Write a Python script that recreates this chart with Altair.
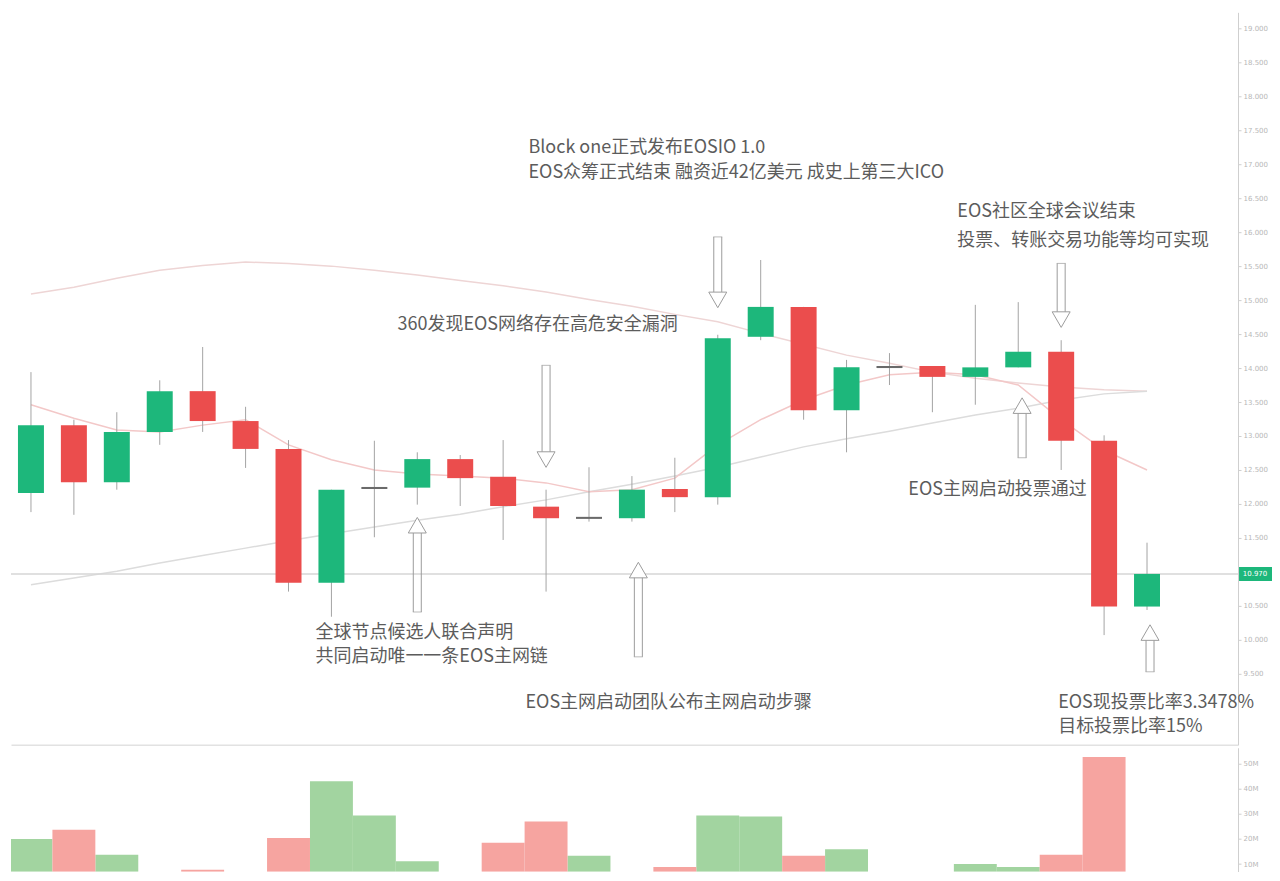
import altair as alt
import pandas as pd

# ---------------- data ----------------
candle_idx = list(range(1, 28))
opens  = [12.16, 13.16, 12.32, 13.06, 13.66, 13.22, 12.81, 10.84, 12.22, 12.24, 12.66, 12.40, 11.96, 11.78,
          11.79, 12.22, 12.10, 14.46, 14.90, 13.38, 14.00, 14.03, 13.87, 14.01, 14.24, 12.93, 10.49]
closes = [13.16, 12.32, 13.06, 13.66, 13.22, 12.81, 10.84, 12.21, 12.25, 12.66, 12.38, 11.97, 11.79, 11.81,
          12.21, 12.10, 14.44, 14.90, 13.38, 14.01, 14.03, 13.87, 14.01, 14.24, 12.93, 10.49, 10.97]
highs  = [13.94, 13.24, 13.35, 13.82, 14.31, 13.43, 12.94, 12.21, 12.93, 12.76, 12.72, 12.94, 12.21, 12.54,
          12.41, 12.68, 14.49, 15.59, 14.90, 14.12, 14.22, 14.03, 14.93, 14.97, 14.41, 13.01, 11.43]
lows   = [11.88, 11.84, 12.21, 12.87, 13.06, 12.53, 10.71, 10.34, 11.51, 11.99, 11.97, 11.47, 10.71, 11.74,
          11.74, 11.88, 11.99, 14.41, 13.24, 12.76, 13.75, 13.35, 13.46, 14.01, 12.50, 10.07, 10.44]
volumes = [20.0, 23.7, 13.7, 4.0, 7.8, 3.5, 20.4, 43.0, 29.3, 11.1, 5.0, 18.5, 27.0, 13.3,
           6.0, 8.9, 29.3, 28.9, 13.3, 15.9, 4.5, 5.5, 10.0, 8.9, 13.7, 52.6, 6.5]

ma_slow = [15.09, 15.19, 15.32, 15.44, 15.51, 15.56, 15.54, 15.50, 15.44, 15.37, 15.29, 15.21, 15.12, 15.01,
           14.91, 14.79, 14.68, 14.51, 14.35, 14.19, 14.07, 13.94, 13.85, 13.78, 13.72, 13.68, 13.66]
ma_mid  = [10.81, 10.91, 11.01, 11.13, 11.24, 11.35, 11.46, 11.56, 11.66, 11.76, 11.85, 11.96, 12.06, 12.18,
           12.29, 12.41, 12.54, 12.69, 12.84, 12.96, 13.07, 13.19, 13.31, 13.41, 13.53, 13.62, 13.66]
ma_fast = [13.46, 13.26, 13.09, 13.06, 13.16, 13.24, 12.87, 12.65, 12.50, 12.44, 12.41, 12.38, 12.31, 12.18,
           12.21, 12.38, 12.87, 13.24, 13.53, 13.75, 13.90, 13.94, 13.90, 13.75, 13.24, 12.79, 12.50]

price_ticks = [9.5, 10.0, 10.5, 11.0, 11.5, 12.0, 12.5, 13.0, 13.5, 14.0, 14.5,
               15.0, 15.5, 16.0, 16.5, 17.0, 17.5, 18.0, 18.5, 19.0]
volume_ticks = [10, 20, 30, 40, 50]

ann_text = ["Block one正式发布EOSIO 1.0",
            "EOS众筹正式结束 融资近42亿美元 成史上第三大ICO",
            "EOS社区全球会议结束",
            "投票、转账交易功能等均可实现",
            "360发现EOS网络存在高危安全漏洞",
            "全球节点候选人联合声明",
            "共同启动唯一一条EOS主网链",
            "EOS主网启动团队公布主网启动步骤",
            "EOS主网启动投票通过",
            "EOS现投票比率3.3478%",
            "目标投票比率15%"]
ann_x = [12.59, 12.59, 22.58, 22.58, 9.54, 7.63, 7.63, 12.52, 21.44, 24.93, 24.93]
ann_y = [17.24, 16.87, 16.29, 15.87, 14.63, 10.10, 9.75, 9.07, 12.21, 9.07, 8.71]

arrow_x    = [17, 13, 25, 10, 15.15, 24.09, 27.07]
arrow_tail = [15.93, 14.04, 15.54, 10.41, 9.75, 12.68, 9.53]
arrow_tip  = [14.85, 12.50, 14.56, 11.84, 11.18, 13.60, 10.26]
arrow_dir  = ["down", "down", "down", "up", "up", "up", "up"]

# ---------------- tables ----------------
df = pd.DataFrame(dict(idx=candle_idx, open=opens, close=closes, high=highs, low=lows, volume=volumes))
df["dir"] = ["doji" if abs(c - o) < 0.05 else ("up" if c > o else "down") for o, c in zip(opens, closes)]
df["vdir"] = ["up" if c >= o else "down" for o, c in zip(opens, closes)]
df["body_top"] = df[["open", "close"]].max(axis=1)
df["body_bot"] = df[["open", "close"]].min(axis=1)

ma_df = pd.DataFrame(dict(idx=candle_idx, slow=ma_slow, mid=ma_mid, fast=ma_fast))
ann_df = pd.DataFrame(dict(x=ann_x, y=ann_y, text=ann_text))
arr_df = pd.DataFrame(dict(x=arrow_x, tail=arrow_tail, tip=arrow_tip, dir=arrow_dir))
last_df = pd.DataFrame(dict(price=[closes[-1]], label=[f"{closes[-1]:.3f}"]))

# ---------------- scales / axes ----------------
W = 1228
H_MAIN = 733
H_VOL = 124
GREEN = "#1db77b"
RED = "#eb4d4d"
FONT = "Noto Sans CJK SC"

xscale = alt.Scale(domain=[0.535, 29.12], nice=False, zero=False, padding=0)
yscale = alt.Scale(domain=[8.456, 19.235], nice=False, zero=False, padding=0)
xaxis = alt.Axis(labels=False, ticks=False, title=None, grid=False, domainColor="#e2e2e2", domainWidth=1.5)
yaxis = alt.Axis(orient="right", values=price_ticks, format=".3f", labelFontSize=7, labelColor="#b8b8b8",
                 tickColor="#cfcfcf", tickSize=3, domainColor="#cfcfcf", grid=False, title=None,
                 labelPadding=2, labelFont="DejaVu Sans")


def X(field="idx"):
    return alt.X(f"{field}:Q", scale=xscale, axis=xaxis, title=None)


def Y(field):
    return alt.Y(f"{field}:Q", scale=yscale, axis=yaxis, title=None)


ma_base = alt.Chart(ma_df)
ma_lines = alt.layer(
    ma_base.mark_line(strokeWidth=1.5, clip=True, color="#eed5d5").encode(x=X(), y=Y("slow")),
    ma_base.mark_line(strokeWidth=1.5, clip=True, color="#dcdcdc").encode(x=X(), y=Y("mid")),
    ma_base.mark_line(strokeWidth=1.5, clip=True, color="#f3c8c8").encode(x=X(), y=Y("fast")),
)

price_line = alt.Chart(last_df).mark_rule(color="#d6d6d6", strokeWidth=1.5).encode(
    x=alt.value(0), x2=alt.value(W), y=Y("price"))

base = alt.Chart(df)
wicks = base.mark_rule(color="#a4a4a4", strokeWidth=1).encode(x=X(), y=Y("low"), y2="high:Q")

bodies = alt.layer(
    base.transform_filter(alt.datum.dir == "up").mark_bar(size=26, color=GREEN).encode(
        x=X(), y=Y("body_bot"), y2="body_top:Q"),
    base.transform_filter(alt.datum.dir == "down").mark_bar(size=26, color=RED).encode(
        x=X(), y=Y("body_bot"), y2="body_top:Q"),
    base.transform_filter(alt.datum.dir == "doji").mark_bar(size=26, color="#6a6a6a").encode(
        x=X(), y=Y("body_bot"), y2="body_top:Q"),
)

down_arr = alt.Chart(arr_df).transform_filter(alt.datum.dir == "down")
up_arr = alt.Chart(arr_df).transform_filter(alt.datum.dir == "up")
ACOL = "#9c9c9c"
arrows = alt.layer(
    down_arr.mark_rule(color=ACOL, strokeWidth=1, xOffset=-4, y2Offset=-15).encode(x=X("x"), y=Y("tail"), y2="tip:Q"),
    down_arr.mark_rule(color=ACOL, strokeWidth=1, xOffset=4, y2Offset=-15).encode(x=X("x"), y=Y("tail"), y2="tip:Q"),
    down_arr.mark_tick(color=ACOL, size=9, thickness=1, orient="horizontal").encode(x=X("x"), y=Y("tail")),
    down_arr.mark_point(shape="triangle-down", size=324, filled=True, fill="white", stroke=ACOL,
                        strokeWidth=1, opacity=1, yOffset=-10.4).encode(x=X("x"), y=Y("tip")),
    up_arr.mark_rule(color=ACOL, strokeWidth=1, xOffset=-4, y2Offset=15).encode(x=X("x"), y=Y("tail"), y2="tip:Q"),
    up_arr.mark_rule(color=ACOL, strokeWidth=1, xOffset=4, y2Offset=15).encode(x=X("x"), y=Y("tail"), y2="tip:Q"),
    up_arr.mark_tick(color=ACOL, size=9, thickness=1, orient="horizontal").encode(x=X("x"), y=Y("tail")),
    up_arr.mark_point(shape="triangle-up", size=324, filled=True, fill="white", stroke=ACOL,
                      strokeWidth=1, opacity=1, yOffset=10.4).encode(x=X("x"), y=Y("tip")),
)

texts = alt.Chart(ann_df).mark_text(align="left", baseline="middle", font=FONT, fontSize=18,
                                    color="#5c5c5c").encode(x=X("x"), y=Y("y"), text="text:N")

last_box = alt.Chart(last_df).mark_rect(color=GREEN, yOffset=-7, y2Offset=7).encode(
    x=alt.value(W + 1), x2=alt.value(W + 34), y=Y("price"), y2="price:Q")
last_txt = alt.Chart(last_df).mark_text(color="white", fontSize=7, align="center", baseline="middle",
                                        font="DejaVu Sans").encode(
    x=alt.value(W + 17), y=Y("price"), text="label:N")

main = alt.layer(ma_lines, price_line, wicks, bodies, arrows, texts, last_box, last_txt).properties(
    width=W, height=H_MAIN)

vscale = alt.Scale(domain=[7, 56.3], nice=False, zero=False, padding=0)
vaxis = alt.Axis(orient="right", values=volume_ticks, labelExpr="datum.value + 'M'", labelFontSize=7,
                 labelColor="#b8b8b8", tickColor="#cfcfcf", tickSize=3, domainColor="#cfcfcf", grid=False,
                 title=None, labelPadding=2, labelFont="DejaVu Sans")
vbase = alt.Chart(df).transform_calculate(x0="datum.idx - 0.5", x1="datum.idx + 0.5")


def vol_layer(kind, col):
    return vbase.transform_filter(alt.datum.vdir == kind).mark_rect(color=col, clip=True).encode(
        x=alt.X("x0:Q", scale=xscale, axis=None, title=None),
        x2="x1:Q",
        y=alt.Y("volume:Q", scale=vscale, axis=vaxis, title=None),
        y2=alt.value(H_VOL),
    )


vol = alt.layer(vol_layer("up", "#a2d4a0"), vol_layer("down", "#f6a4a0")).properties(width=W, height=H_VOL)

chart = alt.vconcat(main, vol, spacing=3).properties(
    padding={"left": 2, "top": 4, "right": 0, "bottom": 0},
    background="white",
).configure_view(stroke=None)

chart.save("out.html", embed_options={"renderer": "svg", "actions": False})
